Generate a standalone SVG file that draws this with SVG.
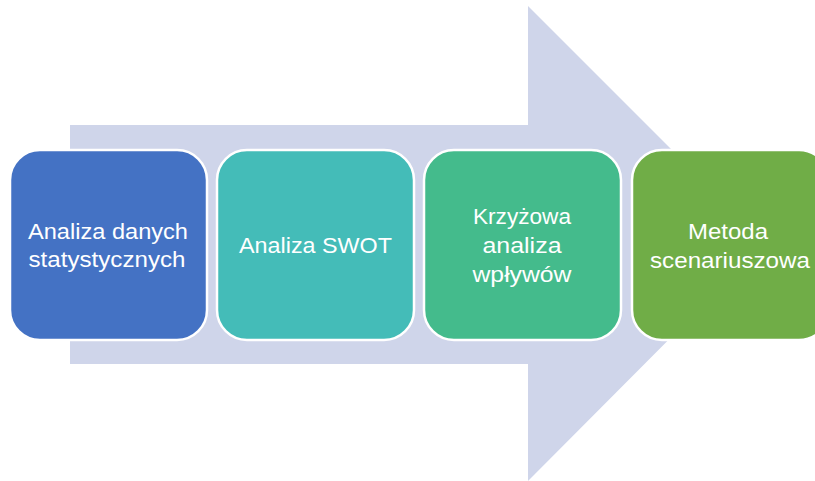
<svg xmlns="http://www.w3.org/2000/svg" width="815" height="481" viewBox="0 0 815 481">
<style>
.box{stroke:#fff;stroke-width:2.5}
.t{font-family:"Liberation Sans",Arial,sans-serif;font-size:22.5px;fill:#fff;text-anchor:middle}
</style>
<rect width="815" height="481" fill="#fff"/>
<g id="arrow">
<polygon points="70,125 528,125 528,6 765,243 528,481 528,364 70,364" fill="#CFD5EA"/>
</g>
<g id="connectors"></g>
<g id="node1">
<rect class="box" x="10" y="150" width="197" height="190" rx="30" fill="#4472C4"/>
<text class="t" x="108" y="239" textLength="160" lengthAdjust="spacingAndGlyphs">Analiza danych</text>
<text class="t" x="107" y="267" textLength="157" lengthAdjust="spacingAndGlyphs">statystycznych</text>
</g>
<g id="node2">
<rect class="box" x="217" y="150" width="197" height="190" rx="30" fill="#44BCB8"/>
<text class="t" x="315.5" y="253" textLength="153" lengthAdjust="spacingAndGlyphs">Analiza SWOT</text>
</g>
<g id="node3">
<rect class="box" x="424" y="150" width="197" height="190" rx="30" fill="#44BB8C"/>
<text class="t" x="522" y="224" textLength="98" lengthAdjust="spacingAndGlyphs">Krzyżowa</text>
<text class="t" x="522" y="253" textLength="79" lengthAdjust="spacingAndGlyphs">analiza</text>
<text class="t" x="522" y="282" textLength="99" lengthAdjust="spacingAndGlyphs">wpływów</text>
</g>
<g id="node4">
<rect class="box" x="632" y="150" width="197" height="190" rx="30" fill="#70AD47"/>
<text class="t" x="728" y="239" textLength="80" lengthAdjust="spacingAndGlyphs">Metoda</text>
<text class="t" x="730" y="268" textLength="160" lengthAdjust="spacingAndGlyphs">scenariuszowa</text>
</g>
</svg>
